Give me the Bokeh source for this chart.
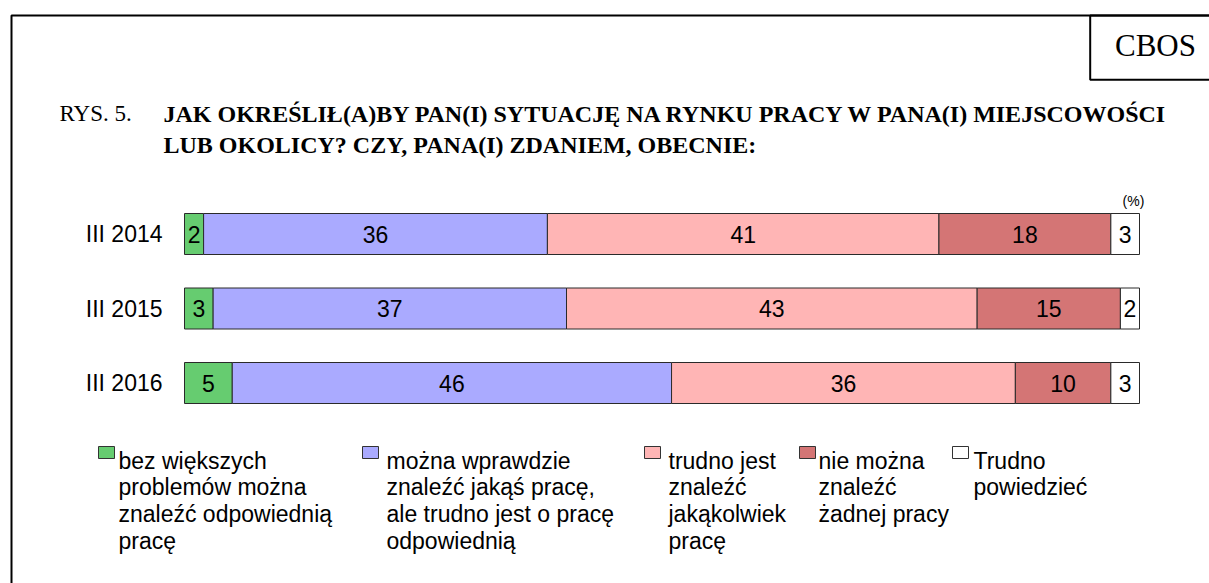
import numpy as np
import pandas as pd
from bokeh.plotting import figure
from bokeh.models import Range1d, ColumnDataSource, BoxAnnotation, Label
from bokeh.core.properties import value
from bokeh.embed import file_html
from bokeh.resources import INLINE

# ---------------- data ----------------
periods = ["III 2014", "III 2015", "III 2016"]
bez_problemow = [2, 3, 5]
mozna_wprawdzie = [36, 37, 46]
trudno_jest = [41, 43, 36]
nie_mozna = [18, 15, 10]
trudno_powiedziec = [3, 2, 3]

series_keys = ["bez", "mozna", "trudno", "nie", "tp"]
series_values = [bez_problemow, mozna_wprawdzie, trudno_jest, nie_mozna, trudno_powiedziec]
series_labels = [
    "bez większych\nproblemów można\nznaleźć odpowiednią\npracę",
    "można wprawdzie\nznaleźć jakąś pracę,\nale trudno jest o pracę\nodpowiednią",
    "trudno jest\nznaleźć\njakąkolwiek\npracę",
    "nie można\nznaleźć\nżadnej pracy",
    "Trudno\npowiedzieć",
]
colors = ["#66CC70", "#AAAAFF", "#FFB5B5", "#D47575", "#FFFFFF"]

title_prefix = "RYS. 5."
title_lines = ["JAK OKREŚLIŁ(A)BY PAN(I) SYTUACJĘ NA RYNKU PRACY W PANA(I) MIEJSCOWOŚCI",
               "LUB OKOLICY? CZY, PANA(I) ZDANIEM, OBECNIE:"]
brand = "CBOS"
unit_note = "(%)"

# ---------------- layout ----------------
W, H = 1209, 583
X0_PX = 184.0          # pixel position of 0 %
PX_PER_PCT = 9.55
ROW0_PX = 233.5        # centre of first bar (px from top)
ROW_PITCH = 74.5
BAR_PX = 41.0

SANS = "Liberation Sans"
SERIF = "Liberation Serif"


def dx(px):
    return (px - X0_PX) / PX_PER_PCT


def dy(py):
    return (py - ROW0_PX) / ROW_PITCH


p = figure(width=W, height=H,
           x_range=Range1d(dx(0), dx(W)),
           y_range=Range1d(dy(H), dy(0)),
           output_backend="svg", toolbar_location=None,
           min_border=0, x_axis_location=None, y_axis_location=None,
           outline_line_color=None, title=None)
p.grid.visible = False
p.background_fill_color = "white"
p.border_fill_color = "white"

# ---------------- bars ----------------
df = pd.DataFrame({k: v for k, v in zip(series_keys, series_values)})
df["y"] = np.arange(len(periods))
src = ColumnDataSource(df)
p.hbar_stack(series_keys, y="y", height=BAR_PX / ROW_PITCH, fill_color=colors,
             line_color="#2a2a2a", line_width=1, source=src)

vals = df[series_keys]
cum = vals.cumsum(axis=1)
mid = cum - vals / 2.0
lab = dict(x=[], y=[], text=[])
for i in range(len(periods)):
    for k in series_keys:
        lab["x"].append(mid.loc[i, k])
        lab["y"].append(i)
        lab["text"].append(str(vals.loc[i, k]))
p.text(x="x", y="y", text="text", source=ColumnDataSource(lab),
       text_align="center", text_baseline="middle",
       text_font=value(SANS), text_font_size="23px", text_color="black")

# category labels
p.text(x=[dx(162)] * len(periods), y=list(range(len(periods))), text=periods,
       text_align="right", text_baseline="middle",
       text_font=value(SANS), text_font_size="23px", text_color="black")

# unit note
p.add_layout(Label(x=dx(1133), y=dy(200), text=unit_note, text_align="center",
                   text_baseline="middle", text_font=SANS, text_font_size="14px",
                   text_color="black"))

# ---------------- frame / header ----------------
p.add_layout(BoxAnnotation(left=dx(11), right=dx(W + 200), top=dy(15), bottom=dy(H + 200),
                           fill_alpha=0, line_color="black", line_alpha=1, line_width=2,
                           level="overlay"))
p.add_layout(BoxAnnotation(left=dx(1089.7), right=dx(W + 200), top=dy(15), bottom=dy(79.3),
                           fill_alpha=0, line_color="black", line_alpha=1, line_width=2,
                           level="overlay"))
p.add_layout(Label(x=dx(1155), y=dy(45), text=brand, text_align="center",
                   text_baseline="middle", text_font=SERIF, text_font_size="31px",
                   text_color="black"))

p.add_layout(Label(x=dx(59), y=dy(113), text=title_prefix, text_align="left",
                   text_baseline="middle", text_font=SERIF, text_font_size="23px",
                   text_color="black"))
for j, line in enumerate(title_lines):
    p.add_layout(Label(x=dx(163), y=dy(113 + 31.5 * j), text=line, text_align="left",
                       text_baseline="middle", text_font=SERIF, text_font_size="24px",
                       text_font_style="bold", text_color="black"))

# ---------------- legend ----------------
leg_box_left = [98, 362, 644, 799, 952]
leg_text_left = [118, 386, 668, 818, 973]
LEG_BASE0 = 460.0
LEG_STEP = 26.7
lx, ly, lt = [], [], []
for i in range(len(series_keys)):
    p.quad(left=[dx(leg_box_left[i])], right=[dx(leg_box_left[i] + 16)],
           top=[dy(446)], bottom=[dy(458)],
           fill_color=colors[i], line_color="#333333", line_width=1)
    for k, part in enumerate(series_labels[i].split("\n")):
        lx.append(dx(leg_text_left[i]))
        ly.append(dy(LEG_BASE0 + LEG_STEP * k))
        lt.append(part)
p.text(x=lx, y=ly, text=lt, text_align="left", text_baseline="alphabetic",
       text_font=value(SANS), text_font_size="23px", text_color="black")

open("out.html", "w").write(file_html(p, INLINE))
